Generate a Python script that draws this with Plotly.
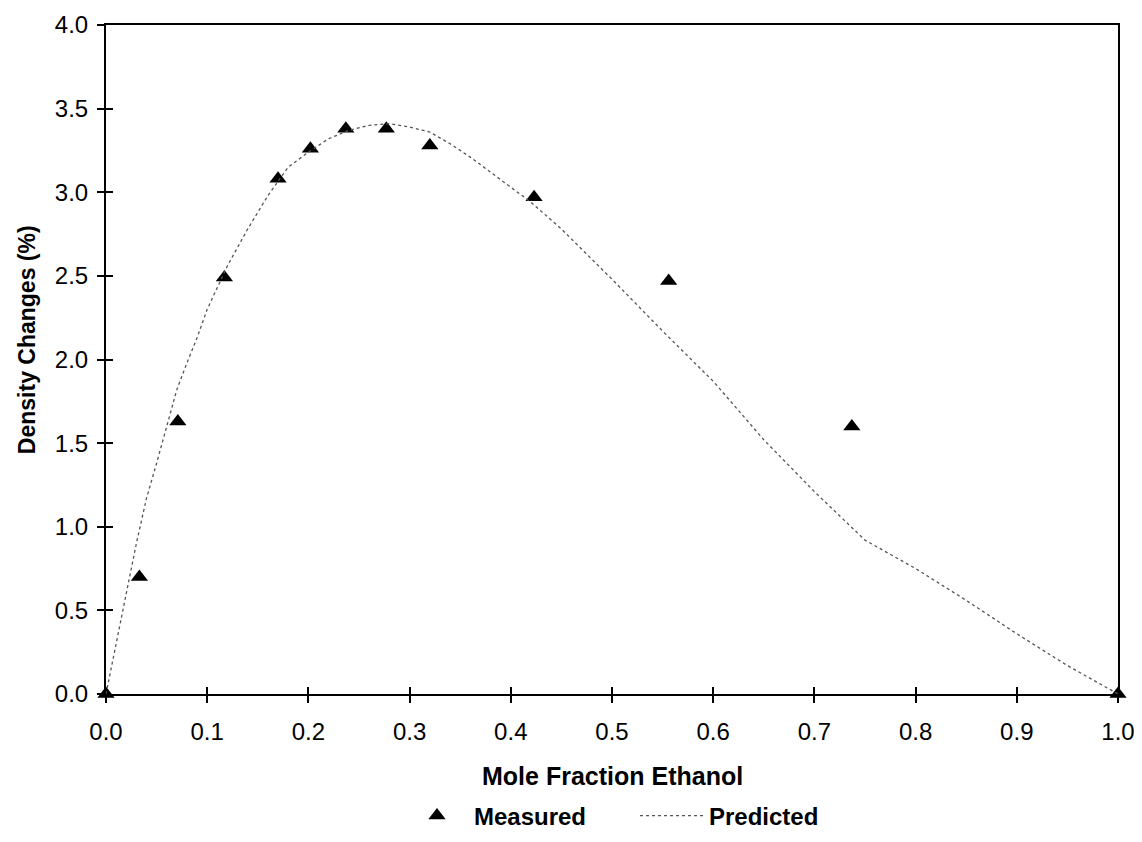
import plotly.graph_objects as go

# Measured data
meas_x = [0.0, 0.033, 0.071, 0.117, 0.170, 0.202, 0.237, 0.277, 0.320, 0.423, 0.556, 0.737, 1.0]
meas_y = [0.0, 0.70, 1.63, 2.49, 3.08, 3.26, 3.38, 3.38, 3.28, 2.97, 2.47, 1.60, 0.0]

# Predicted curve
pred_x = [0.0, 0.01, 0.02, 0.03, 0.04, 0.05, 0.06, 0.07, 0.08, 0.09, 0.10, 0.12, 0.14,
          0.16, 0.18, 0.20, 0.22, 0.24, 0.26, 0.28, 0.30, 0.32, 0.34, 0.36, 0.38, 0.40,
          0.42, 0.45, 0.50, 0.55, 0.60, 0.65, 0.70, 0.75, 0.80, 0.85, 0.90, 0.95, 1.0]
pred_y = [0.0, 0.29, 0.60, 0.90, 1.17, 1.38, 1.60, 1.82, 1.98, 2.13, 2.30, 2.56, 2.78,
          2.98, 3.15, 3.24, 3.32, 3.37, 3.40, 3.41, 3.39, 3.36, 3.29, 3.21, 3.12, 3.03,
          2.94, 2.78, 2.48, 2.17, 1.87, 1.52, 1.21, 0.92, 0.75, 0.56, 0.36, 0.17, 0.0]

x_ticks = [0.0, 0.1, 0.2, 0.3, 0.4, 0.5, 0.6, 0.7, 0.8, 0.9, 1.0]
y_ticks = [0.0, 0.5, 1.0, 1.5, 2.0, 2.5, 3.0, 3.5, 4.0]

x_title = "Mole Fraction Ethanol"
y_title = "Density Changes (%)"

FONT = "Liberation Sans, Arial, sans-serif"

fig = go.Figure()
fig.add_trace(go.Scatter(
    x=meas_x, y=meas_y, mode="markers", name="Measured",
    marker=dict(symbol="triangle-up", size=15, color="black"),
    cliponaxis=False,
))
fig.add_trace(go.Scatter(
    x=pred_x, y=pred_y, mode="lines", name="Predicted",
    line=dict(color="#555555", width=1.3, dash="dot"),
))
# invisible trace on overlay axes (used for inward tick marks)
fig.add_trace(go.Scatter(x=[None], y=[None], xaxis="x2", yaxis="y2",
                         showlegend=False, hoverinfo="skip"))

fig.update_layout(
    width=1126, height=826,
    paper_bgcolor="white", plot_bgcolor="white",
    margin=dict(l=98, r=16, t=17, b=140, autoexpand=False),
    font=dict(family=FONT, color="black", size=24),
    xaxis=dict(
        range=[0, 1], tickvals=x_ticks, ticktext=[f"{v:.1f}" for v in x_ticks],
        showline=True, linecolor="black", linewidth=2, mirror=True,
        ticks="outside", ticklen=7, tickwidth=2, tickcolor="black",
        ticklabelstandoff=8, ticklabeloverflow="allow",
        showgrid=False, zeroline=False, automargin=False,
        tickfont=dict(size=24),
    ),
    yaxis=dict(
        range=[0, 4], tickvals=y_ticks, ticktext=[f"{v:.1f}" for v in y_ticks],
        showline=True, linecolor="black", linewidth=2, mirror=True,
        ticks="outside", ticklen=7, tickwidth=2, tickcolor="black",
        ticklabelstandoff=4, automargin=False,
        showgrid=False, zeroline=False,
        tickfont=dict(size=24),
    ),
    xaxis2=dict(
        range=[0, 1], tickvals=x_ticks, overlaying="x", anchor="y", side="bottom",
        ticks="inside", ticklen=7, tickwidth=2, tickcolor="black",
        showticklabels=False, showgrid=False, zeroline=False, showline=False,
    ),
    yaxis2=dict(
        range=[0, 4], tickvals=y_ticks, overlaying="y", anchor="x", side="left",
        ticks="inside", ticklen=7, tickwidth=2, tickcolor="black",
        showticklabels=False, showgrid=False, zeroline=False, showline=False,
    ),
    legend=dict(
        orientation="h", x=0.2905, xanchor="left",
        yref="container", y=0.0218, yanchor="middle",
        font=dict(size=24, family=FONT, weight="bold"),
        itemwidth=64, entrywidth=156, bgcolor="rgba(0,0,0,0)",
    ),
    annotations=[
        dict(text=f"<b>{x_title}</b>", xref="paper", yref="paper", x=0.5, y=-0.1226,
             xanchor="center", yanchor="middle", showarrow=False, font=dict(size=25)),
        dict(text=f"<b>{y_title}</b>", xref="paper", yref="paper", x=-0.078, y=0.529,
             xanchor="center", yanchor="middle", showarrow=False, textangle=-90,
             font=dict(size=23)),
    ],
    showlegend=True,
)

fig.write_html("out.html")
